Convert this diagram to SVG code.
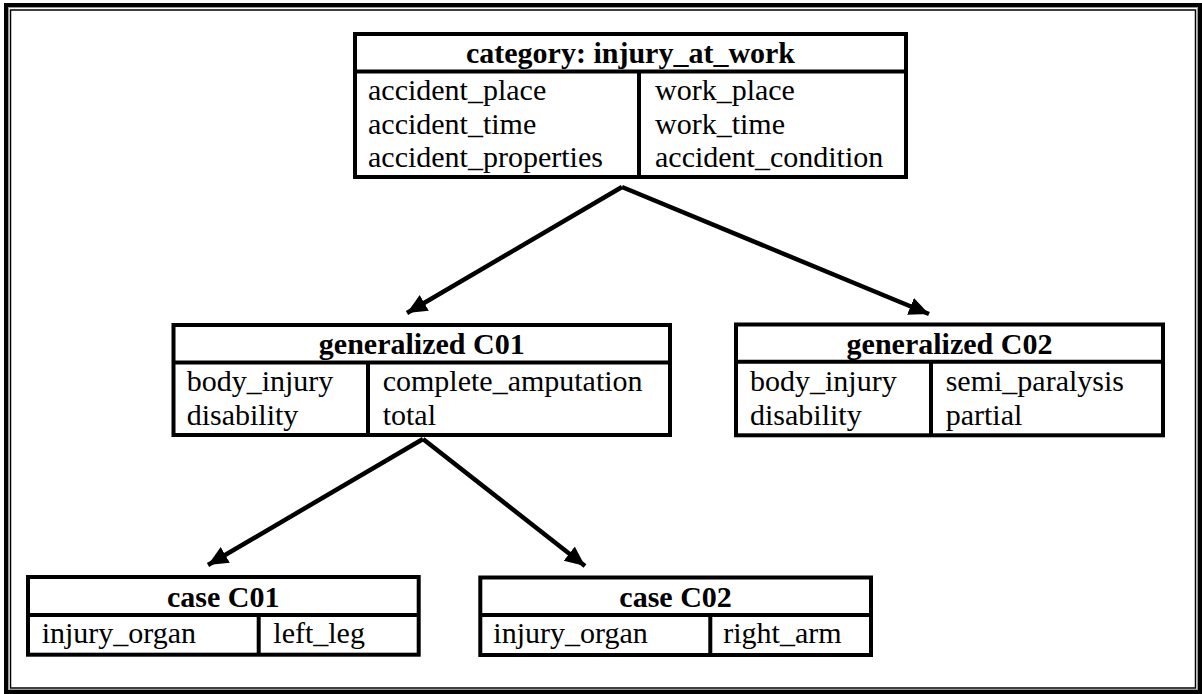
<svg xmlns="http://www.w3.org/2000/svg" width="1202" height="694" viewBox="0 0 1202 694">
<style>
.box{fill:#fff;stroke:#000;stroke-width:4}
.ln{stroke:#000;stroke-width:4;fill:none}
.hd{font-family:"Liberation Serif","Times New Roman",serif;font-weight:bold;font-size:30px;fill:#000;text-anchor:middle}
.tx{font-family:"Liberation Serif","Times New Roman",serif;font-size:30px;fill:#000}
.conn{stroke:#000;stroke-width:4.5;fill:none;marker-end:url(#ah)}
</style>
<defs>
<marker id="ah" markerUnits="userSpaceOnUse" markerWidth="26" markerHeight="22" refX="20" refY="9" orient="auto" viewBox="0 0 26 22">
<path d="M0,0 L20,9 L0,18 Z" fill="#000"/>
</marker>
</defs>
<rect width="1202" height="694" fill="#fff"/>
<g id="frame">
<rect x="6" y="5" width="1194" height="687" fill="none" stroke="#000" stroke-width="4"/>
<rect x="8.5" y="7.5" width="1189" height="682" fill="none" stroke="#999" stroke-width="1"/>
<rect x="10.5" y="10" width="1185" height="678" fill="none" stroke="#000" stroke-width="1.5"/>
</g>
<g id="connectors">
<line class="conn" x1="622" y1="187" x2="407" y2="313"/>
<line class="conn" x1="622" y1="187" x2="929" y2="314"/>
<line class="conn" x1="423" y1="439" x2="208" y2="565"/>
<line class="conn" x1="423" y1="439" x2="585" y2="566"/>
</g>
<g id="category">
<rect class="box" x="355" y="34" width="551" height="143"/>
<line class="ln" x1="355" y1="71.5" x2="906" y2="71.5"/>
<line class="ln" x1="639" y1="71.5" x2="639" y2="177"/>
<text class="hd" x="630.5" y="63">category: injury_at_work</text>
<text class="tx" x="368" y="100">accident_place</text>
<text class="tx" x="368" y="133.5">accident_time</text>
<text class="tx" x="368" y="167">accident_properties</text>
<text class="tx" x="655" y="100">work_place</text>
<text class="tx" x="655" y="133.5">work_time</text>
<text class="tx" x="655" y="167">accident_condition</text>
</g>
<g id="genC01">
<rect class="box" x="173.5" y="325" width="496.5" height="110"/>
<line class="ln" x1="173.5" y1="362.5" x2="670" y2="362.5"/>
<line class="ln" x1="368" y1="362.5" x2="368" y2="435"/>
<text class="hd" x="421.75" y="354.3">generalized C01</text>
<text class="tx" x="186.7" y="391">body_injury</text>
<text class="tx" x="186.7" y="425">disability</text>
<text class="tx" x="382.7" y="391">complete_amputation</text>
<text class="tx" x="382.7" y="425">total</text>
</g>
<g id="genC02">
<rect class="box" x="736" y="324.5" width="427" height="110.8"/>
<line class="ln" x1="736" y1="361.7" x2="1163" y2="361.7"/>
<line class="ln" x1="931" y1="361.7" x2="931" y2="435.3"/>
<text class="hd" x="949.5" y="354.3">generalized C02</text>
<text class="tx" x="750" y="391">body_injury</text>
<text class="tx" x="750" y="425">disability</text>
<text class="tx" x="945.7" y="391">semi_paralysis</text>
<text class="tx" x="945.7" y="425">partial</text>
</g>
<g id="caseC01">
<rect class="box" x="28" y="577" width="390.7" height="77.7"/>
<line class="ln" x1="28" y1="615" x2="418.7" y2="615"/>
<line class="ln" x1="258.7" y1="615" x2="258.7" y2="654.7"/>
<text class="hd" x="223.3" y="606.7">case C01</text>
<text class="tx" x="41.7" y="643.3">injury_organ</text>
<text class="tx" x="273.3" y="643.3">left_leg</text>
</g>
<g id="caseC02">
<rect class="box" x="480.3" y="577.5" width="390.7" height="77.5"/>
<line class="ln" x1="480.3" y1="615" x2="871" y2="615"/>
<line class="ln" x1="710.3" y1="615" x2="710.3" y2="655"/>
<text class="hd" x="675.6" y="606.7">case C02</text>
<text class="tx" x="493.3" y="643.3">injury_organ</text>
<text class="tx" x="723.3" y="643.3">right_arm</text>
</g>
</svg>
